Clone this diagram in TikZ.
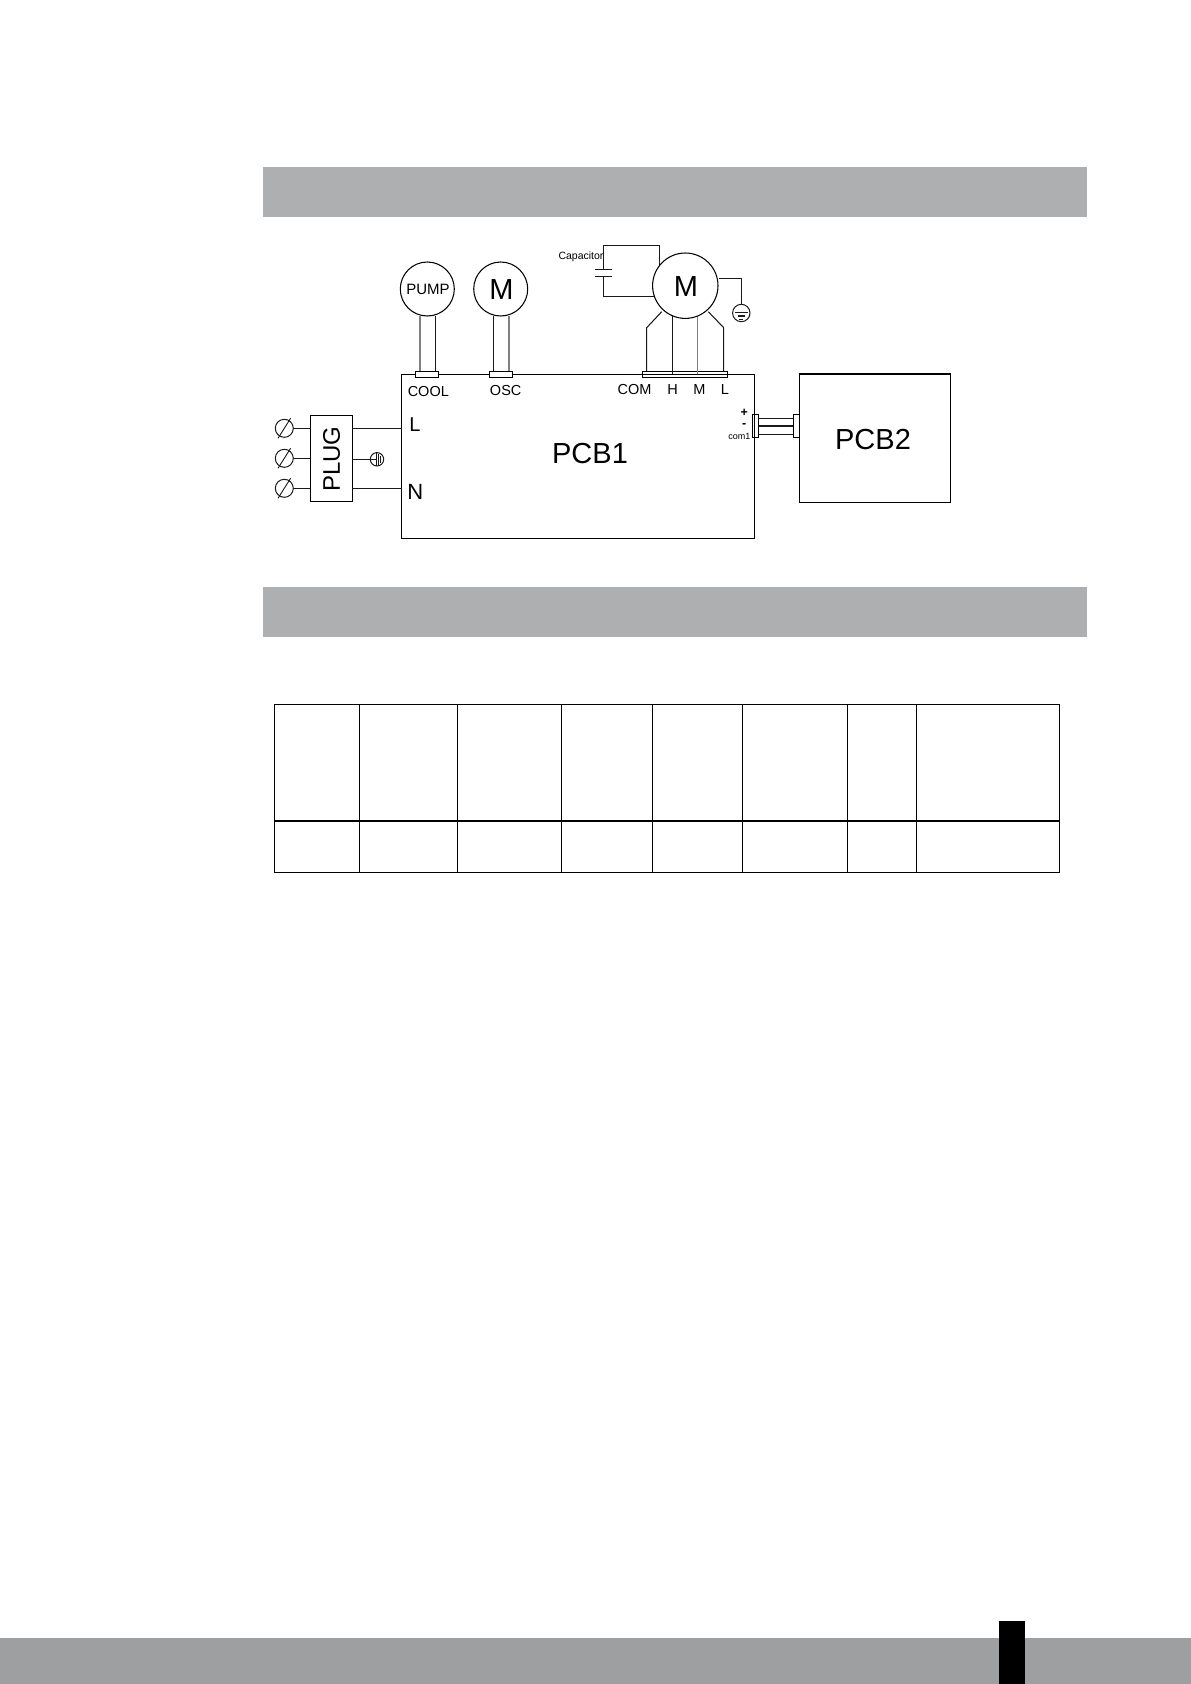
\documentclass[tikz,border=0pt]{standalone}
\usepackage{fontspec}
\setmainfont{Liberation Sans}
\tikzset{
  px/.style={x=1pt,y=-1pt},
  wire/.style={draw=black!90,line width=1.05pt},
  greywire/.style={draw=black!50,line width=1.1pt},
  gridline/.style={draw=black,line width=1.05pt},
  thingrid/.style={draw=black,line width=0.6pt},
  lbl/.style={inner sep=0pt,font=\fontsize{#1}{#1}\selectfont},
  lbl/.default=14,
  motor/.style={circle,draw=black,line width=1.05pt,fill=white,inner sep=0pt},
  term/.style={circle,draw=black!90,line width=1pt,inner sep=0pt,minimum size=18pt},
  conn/.style={rectangle,draw=black,line width=1.05pt,inner sep=0pt,fill=white},
  boxn/.style={rectangle,draw=black,line width=1.05pt,inner sep=0pt},
}
\definecolor{bandgrey}{HTML}{AEAFB1}
\definecolor{footgrey}{HTML}{9E9FA0}
\begin{document}
\begin{tikzpicture}[px]
\useasboundingbox (0,0) rectangle (1191,1684);
\fill[white] (0,0) rectangle (1191,1684);
% bands
\fill[bandgrey] (262.8,166.7) rectangle (1087,216.8);
\fill[bandgrey] (262.8,586.7) rectangle (1087,637.2);
\fill[footgrey] (0,1638) rectangle (1191,1684);
\fill[black] (999,1620.8) rectangle (1025,1684);

% PCBs
\node[boxn,minimum width=353pt,minimum height=164pt] (pcb1) at (578.2,456.3) {};
\node[boxn,minimum width=151pt,minimum height=128.6pt] (pcb2) at (874.8,438.3) {};
\node[lbl=29] at (590,453.5) {PCB1};
\node[lbl=29] at (873,440) {PCB2};

% pump and fan motors
\node[motor,minimum size=54pt] (pump) at (427.3,289) {};
\node[lbl=15] at (428,289.5) {PUMP};
\node[motor,minimum size=54pt] (osc) at (500.7,289) {};
\node[lbl=29] at (501.5,289.5) {M};
\node[conn,minimum width=23.4pt,minimum height=6pt] (cool) at (427,374.3) {};
\node[conn,minimum width=23.4pt,minimum height=6pt] (oscc) at (501,374.3) {};
\draw[greywire] (420,316) -- (420,371.3);
\draw[wire] (435.3,316) -- (435.3,371.3);
\draw[wire] (493.7,316) -- (493.7,371.3);
\draw[greywire] (509,316) -- (509,371.3);
\node[lbl=14.5] at (428.3,391.5) {COOL};
\node[lbl=14.5] at (505.7,390.5) {OSC};

% main motor
\coordinate (capT) at (603.3,245.3);
\coordinate (capB) at (603.3,296.3);
\coordinate (capU) at (603.3,269.3);
\coordinate (capL) at (603.3,276.3);
\draw[wire] (capU) -- (capT) -- (659.3,245.3) -- (659.3,270);
\draw[wire] (capL) -- (capB) -- (660,296.3);
\draw[wire] (595,269.3) -- (612,269.3);
\draw[wire] (595,276.3) -- (612,276.3);
\node[lbl=10.5] at (581,256.8) {Capacitor};
\node[conn,fill=none,minimum width=85.4pt,minimum height=6.2pt] (fanc) at (685,374.2) {};
\draw[wire] (661.7,311.7) -- (646.7,327.7) -- (646.7,371.3);
\draw[wire] (672.3,316) -- (672.3,374.3);
\draw[greywire] (697.7,316) -- (697.7,374.3);
\draw[wire] (708.3,311.7) -- (723.7,327.7) -- (723.7,371.3);
\node[motor,minimum size=65.4pt] (fan) at (685.3,285.7) {};
\node[lbl=29] at (686,286.5) {M};
\node[lbl=14.5] at (634.5,390) {COM};
\node[lbl=14.5] at (672.7,390) {H};
\node[lbl=14.5] at (699.5,390) {M};
\node[lbl=14.5] at (725,390) {L};

% earth of the main motor
\node[term,minimum size=17.4pt] (earth) at (741.3,313) {};
\draw[wire] (fan.east |- 0,278.3) -- (741.3,278.3) -- (earth.north);
\draw[wire] (735,312.7) -- (747.5,312.7);
\draw[wire] (737.5,316) -- (745,316);
\draw[wire] (739.3,319.3) -- (743.3,319.3);

% plug
\node[boxn,minimum width=42pt,minimum height=85.7pt] (plug) at (331.3,458.2) {};
\node[lbl=24,rotate=90] at (331.7,459) {PLUG};
\node[term] (t1) at (284.3,428.3) {};
\node[term] (t2) at (284.3,458.3) {};
\node[term] (t3) at (284.3,488.3) {};
\foreach \y in {428.3,458.3,488.3}{
  \draw[wire,line width=0.9pt] (278,\y+10) -- (290.6,\y-10);
  \draw[wire] (293.3,\y) -- (310.3,\y);
}
\node[lbl=20] at (415,424.3) {L};
\node[lbl=22] at (415.3,492.3) {N};
\draw[wire] (352.3,428.3) -- (401.7,428.3);
\draw[wire] (352.3,488.3) -- (401.7,488.3);
\node[term,minimum size=13.4pt] (pe) at (377,459.3) {};
\draw[wire] (352.3,459.3) -- (376,459.3);
\draw[wire,line width=0.7pt] (376,452.6) -- (376,466);
\draw[wire,line width=0.7pt] (378.4,454) -- (378.4,464.6);
\draw[wire,line width=0.7pt] (380.7,456) -- (380.7,462.6);

% PCB1-PCB2 link
\node[conn,fill=none,minimum width=6.4pt,minimum height=23.4pt] (jl) at (755.5,426) {};
\node[conn,fill=none,minimum width=6pt,minimum height=23.4pt] (jr) at (796.3,426) {};
\draw[wire] (758.7,418.3) -- (793.3,418.3);
\draw[wire] (758.7,426) -- (793.3,426);
\draw[wire] (758.7,434.3) -- (793.3,434.3);
\node[lbl=12.5,font=\fontsize{12.5}{12.5}\selectfont\bfseries] at (744.3,413.2) {+};
\node[lbl=12.5,font=\fontsize{12.5}{12.5}\selectfont\bfseries] at (744.3,425.2) {-};
\node[lbl=9] at (739.3,436.6) {com1};

% table
\draw[gridline] (274.6,704.3) rectangle (1059.7,872.3);
\draw[gridline] (274.6,821) -- (1059.7,821);
\draw[gridline] (359.4,704.3) -- (359.4,872.3);
\draw[gridline] (457.7,704.3) -- (457.7,872.3);
\draw[thingrid] (561.4,704.3) -- (561.4,872.3);
\draw[thingrid] (652.3,704.3) -- (652.3,872.3);
\draw[gridline] (742.7,704.3) -- (742.7,872.3);
\draw[gridline] (847.3,704.3) -- (847.3,872.3);
\draw[gridline] (916.4,704.3) -- (916.4,872.3);
\end{tikzpicture}
\end{document}
